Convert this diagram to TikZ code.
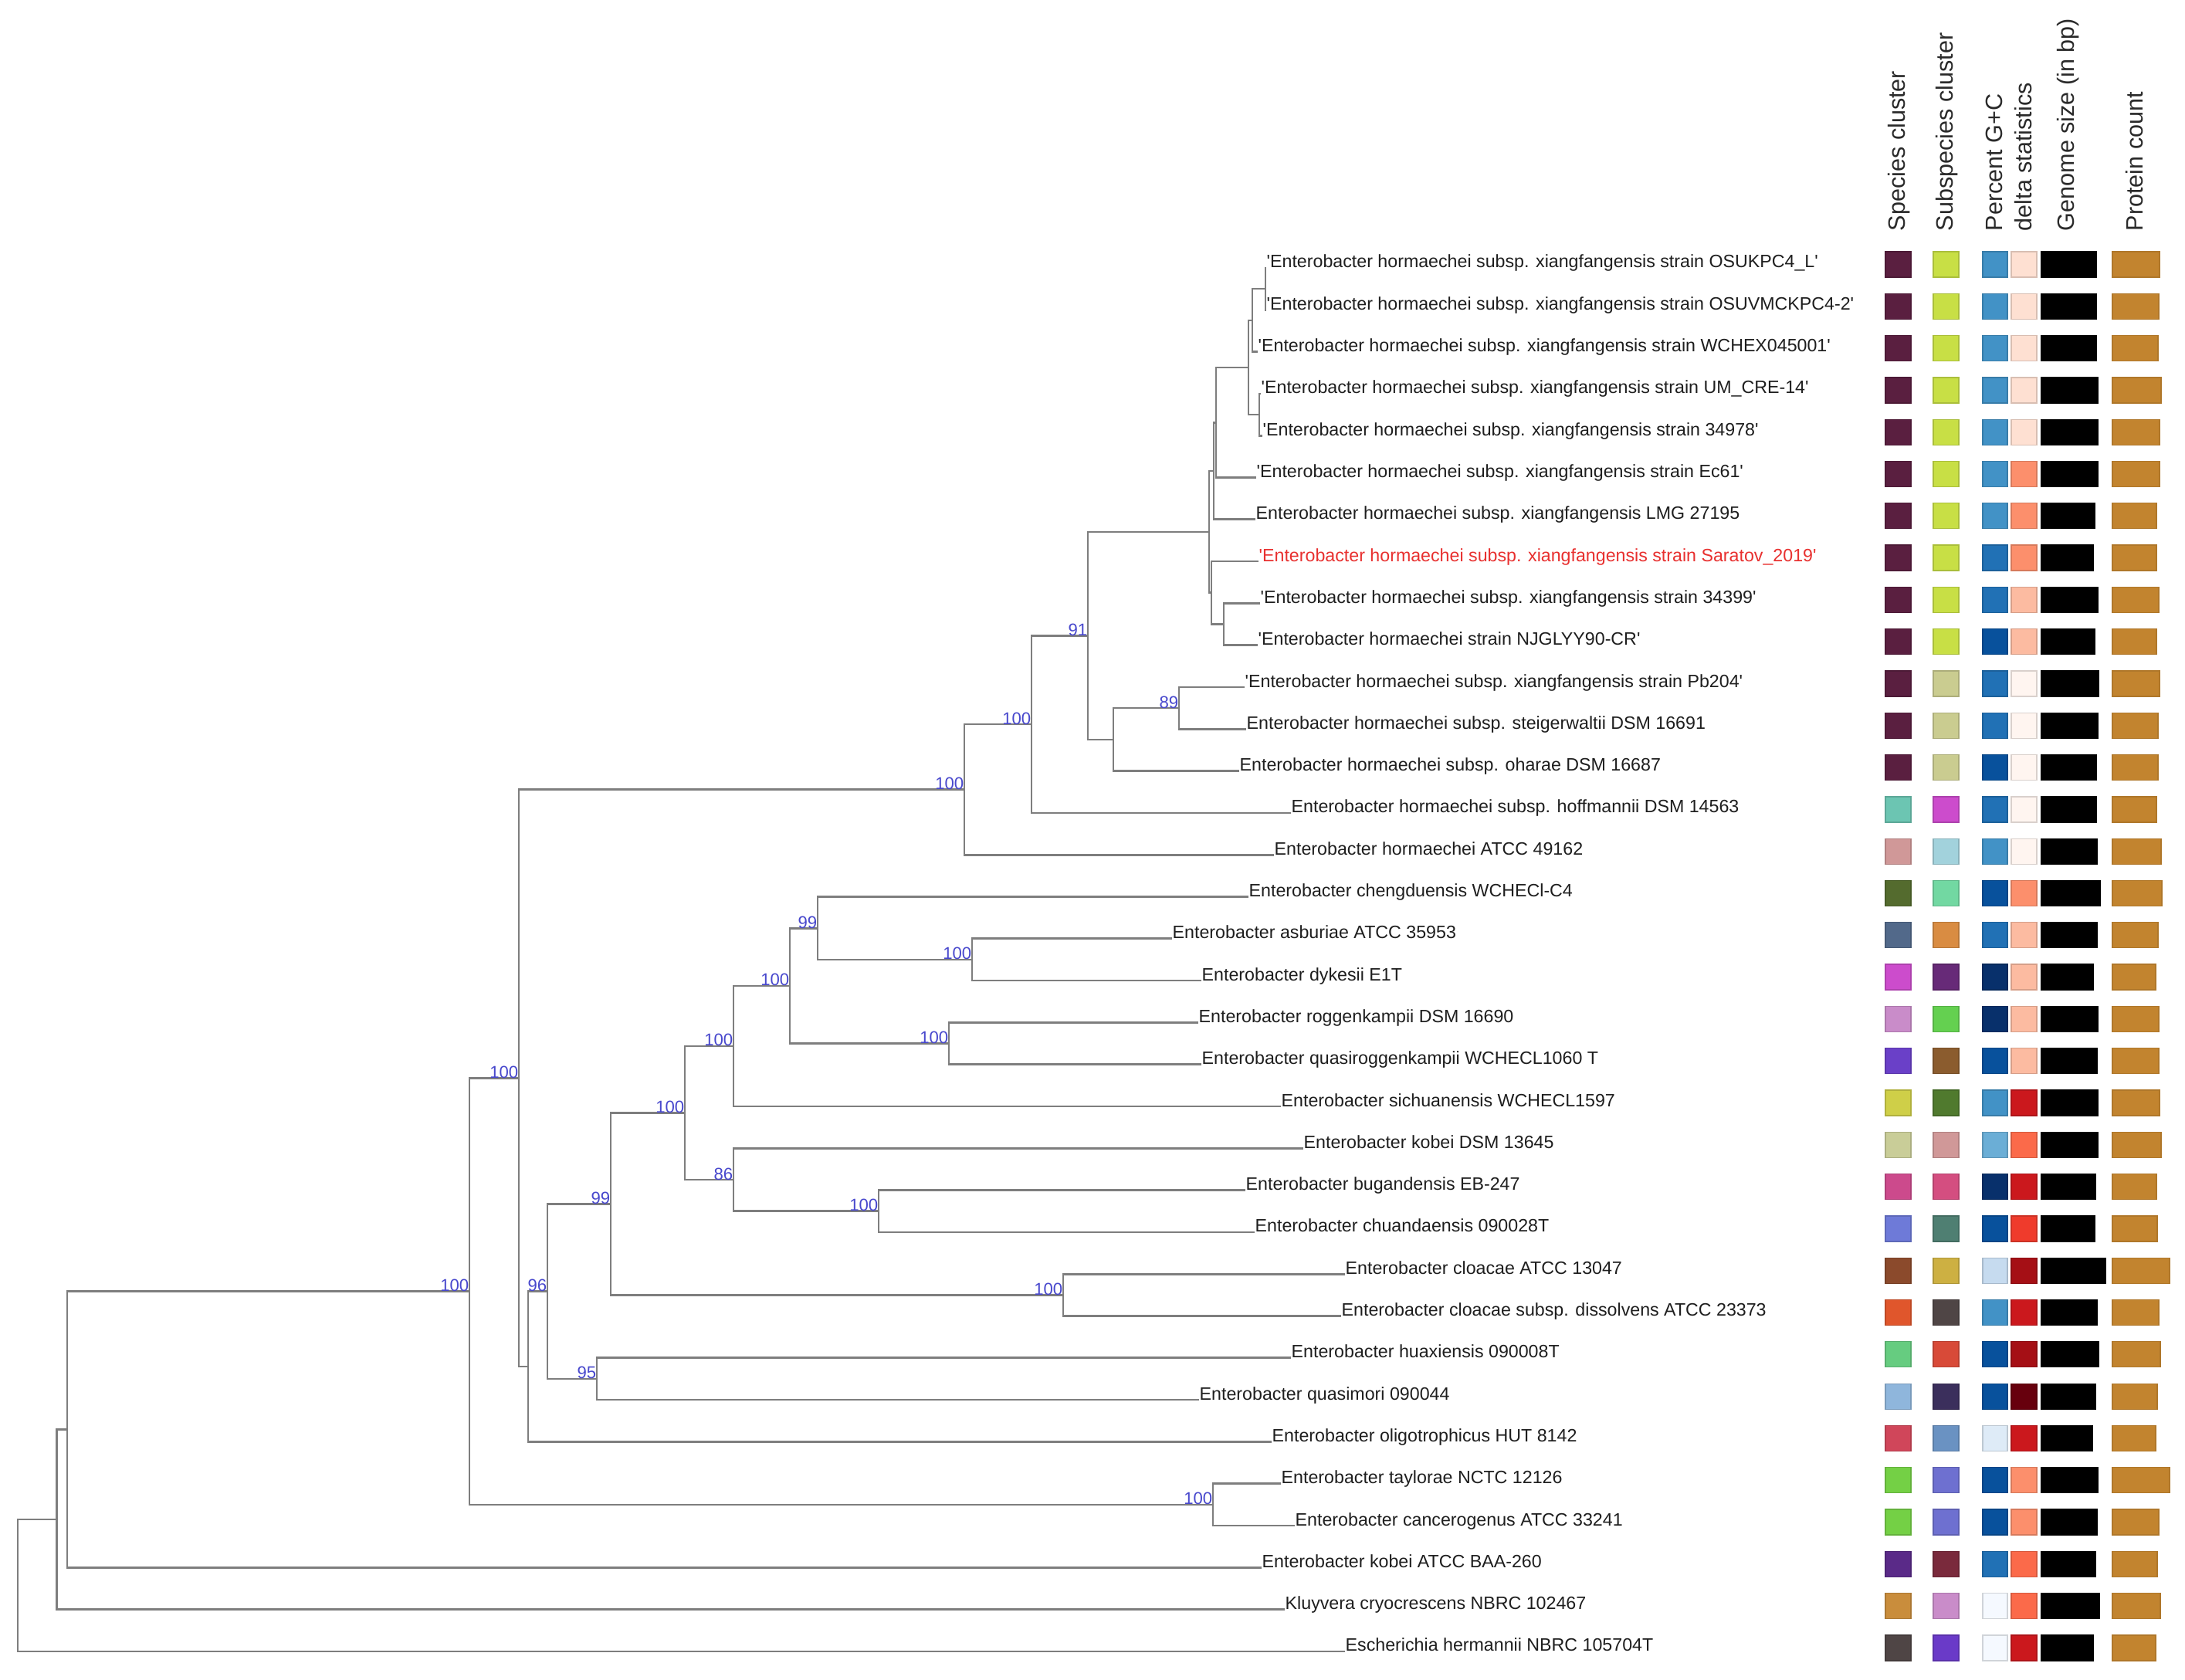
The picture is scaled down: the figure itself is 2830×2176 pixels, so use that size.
\documentclass[tikz,border=0pt]{standalone}
\usepackage{fontspec}
\newfontfamily\lsans{Liberation Sans}
\definecolor{treegray}{HTML}{7E7E7E}
\definecolor{leafc}{HTML}{1E1E1E}
\definecolor{hdrc}{HTML}{2A2A2A}
\definecolor{bsblue}{HTML}{4848CD}
\definecolor{redleaf}{HTML}{E8302F}
\definecolor{plum}{HTML}{5A1F40}
\definecolor{lime}{HTML}{C8DF45}
\definecolor{khaki}{HTML}{CACC90}
\definecolor{khakiB}{HTML}{C9CD98}
\definecolor{gcA}{HTML}{4292C6}
\definecolor{gcB}{HTML}{2171B5}
\definecolor{gcC}{HTML}{08519C}
\definecolor{gcD}{HTML}{08306B}
\definecolor{gcE}{HTML}{6BAED6}
\definecolor{gcF}{HTML}{C6DBEF}
\definecolor{gcG}{HTML}{DEEBF7}
\definecolor{gcH}{HTML}{F5F9FF}
\definecolor{dA}{HTML}{FEE0D2}
\definecolor{dB}{HTML}{FC8F6C}
\definecolor{dC}{HTML}{FCBBA1}
\definecolor{dD}{HTML}{FFF5F0}
\definecolor{dE}{HTML}{CB181D}
\definecolor{dF}{HTML}{FB6A4A}
\definecolor{dG}{HTML}{EF3B2C}
\definecolor{dH}{HTML}{A50F15}
\definecolor{dI}{HTML}{67000D}
\definecolor{prot}{HTML}{C2842F}
\definecolor{teal}{HTML}{6CC5B2}
\definecolor{magentaC}{HTML}{CC4CCC}
\definecolor{dustypink}{HTML}{D09898}
\definecolor{lightblueC}{HTML}{A2D2DC}
\definecolor{oliveC}{HTML}{546B2E}
\definecolor{mint}{HTML}{72D8A2}
\definecolor{slate}{HTML}{52698A}
\definecolor{orangeC}{HTML}{D98C42}
\definecolor{purpleC}{HTML}{672A78}
\definecolor{orchid}{HTML}{C98CC9}
\definecolor{greenC}{HTML}{64D050}
\definecolor{violetC}{HTML}{6A40C8}
\definecolor{brownC}{HTML}{8B5C2E}
\definecolor{yelolive}{HTML}{CFCF48}
\definecolor{dkgreen}{HTML}{507A2E}
\definecolor{pinkC}{HTML}{CC4A8C}
\definecolor{pinkD}{HTML}{D44E80}
\definecolor{periw}{HTML}{6E7AD8}
\definecolor{tealgray}{HTML}{4F7F72}
\definecolor{rust}{HTML}{8B4A2C}
\definecolor{mustard}{HTML}{CDB042}
\definecolor{orangered}{HTML}{E0562C}
\definecolor{dkgraybr}{HTML}{4F4545}
\definecolor{ltgreen}{HTML}{66CC80}
\definecolor{redorange}{HTML}{D84A38}
\definecolor{steel}{HTML}{8FB6DC}
\definecolor{dknavy}{HTML}{3B2F5C}
\definecolor{crimson}{HTML}{D0465A}
\definecolor{steelblue}{HTML}{6A92C2}
\definecolor{greenD}{HTML}{74D045}
\definecolor{periwB}{HTML}{6E70D0}
\definecolor{indigoC}{HTML}{5A2A88}
\definecolor{maroonC}{HTML}{7A2A3C}
\definecolor{tanC}{HTML}{C98D3C}
\definecolor{violetD}{HTML}{6A3AC8}
\begin{document}
\begin{tikzpicture}[x=0.01cm,y=-0.01cm,
  br/.style={draw=treegray, line width=0.75pt},
  leaf/.style={anchor=base west, inner sep=0pt, font=\lsans\fontsize{6.6}{7}\selectfont, text=leafc},
  bs/.style={anchor=base east, inner sep=0pt, font=\lsans\fontsize{6.3}{7}\selectfont, text=bsblue},
  hdr/.style={rotate=90, anchor=mid west, inner sep=0pt, font=\lsans\fontsize{8.7}{9}\selectfont, text=hdrc},
  cell/.style={line width=0.35pt}]
\fill[white] (0,0) rectangle (2830,2176);
\useasboundingbox (0,0) rectangle (2830,2176);

% ---------- leaves ----------
\node[leaf] (t1) at (1640,347.0) {'Enterobacter hormaechei subsp. xiangfangensis strain OSUKPC4\_L'};
\node[leaf] (t2) at (1640,401.3) {'Enterobacter hormaechei subsp. xiangfangensis strain OSUVMCKPC4-2'};
\node[leaf] (t3) at (1629,455.6) {'Enterobacter hormaechei subsp. xiangfangensis strain WCHEX045001'};
\node[leaf] (t4) at (1633,509.9) {'Enterobacter hormaechei subsp. xiangfangensis strain UM\_CRE-14'};
\node[leaf] (t5) at (1635,564.2) {'Enterobacter hormaechei subsp. xiangfangensis strain 34978'};
\node[leaf] (t6) at (1627,618.5) {'Enterobacter hormaechei subsp. xiangfangensis strain Ec61'};
\node[leaf] (t7) at (1626,672.8) {Enterobacter hormaechei subsp. xiangfangensis LMG 27195};
\node[leaf, text=redleaf] (t8) at (1630,727.1) {'Enterobacter hormaechei subsp. xiangfangensis strain Saratov\_2019'};
\node[leaf] (t9) at (1632,781.4) {'Enterobacter hormaechei subsp. xiangfangensis strain 34399'};
\node[leaf] (t10) at (1629,835.7) {'Enterobacter hormaechei strain NJGLYY90-CR'};
\node[leaf] (t11) at (1612,890.0) {'Enterobacter hormaechei subsp. xiangfangensis strain Pb204'};
\node[leaf] (t12) at (1614,944.3) {Enterobacter hormaechei subsp. steigerwaltii DSM 16691};
\node[leaf] (t13) at (1605,998.6) {Enterobacter hormaechei subsp. oharae DSM 16687};
\node[leaf] (t14) at (1672,1052.9) {Enterobacter hormaechei subsp. hoffmannii DSM 14563};
\node[leaf] (t15) at (1650,1107.2) {Enterobacter hormaechei ATCC 49162};
\node[leaf] (t16) at (1617,1161.5) {Enterobacter chengduensis WCHECl-C4};
\node[leaf] (t17) at (1518,1215.8) {Enterobacter asburiae ATCC 35953};
\node[leaf] (t18) at (1556,1270.1) {Enterobacter dykesii E1T};
\node[leaf] (t19) at (1552,1324.4) {Enterobacter roggenkampii DSM 16690};
\node[leaf] (t20) at (1556,1378.7) {Enterobacter quasiroggenkampii WCHECL1060 T};
\node[leaf] (t21) at (1659,1433.0) {Enterobacter sichuanensis WCHECL1597};
\node[leaf] (t22) at (1688,1487.3) {Enterobacter kobei DSM 13645};
\node[leaf] (t23) at (1613,1541.6) {Enterobacter bugandensis EB-247};
\node[leaf] (t24) at (1625,1595.9) {Enterobacter chuandaensis 090028T};
\node[leaf] (t25) at (1742,1650.2) {Enterobacter cloacae ATCC 13047};
\node[leaf] (t26) at (1737,1704.5) {Enterobacter cloacae subsp. dissolvens ATCC 23373};
\node[leaf] (t27) at (1672,1758.8) {Enterobacter huaxiensis 090008T};
\node[leaf] (t28) at (1553,1813.1) {Enterobacter quasimori 090044};
\node[leaf] (t29) at (1647,1867.4) {Enterobacter oligotrophicus HUT 8142};
\node[leaf] (t30) at (1659,1921.7) {Enterobacter taylorae NCTC 12126};
\node[leaf] (t31) at (1677,1976.0) {Enterobacter cancerogenus ATCC 33241};
\node[leaf] (t32) at (1634,2030.3) {Enterobacter kobei ATCC BAA-260};
\node[leaf] (t33) at (1664,2084.6) {Kluyvera cryocrescens NBRC 102467};
\node[leaf] (t34) at (1742,2138.9) {Escherichia hermannii NBRC 105704T};

% ---------- internal nodes ----------
\coordinate (nP12) at (1639,374.15);
\coordinate (nP123) at (1622,414.9);
\coordinate (nP45) at (1631,537.05);
\coordinate (nP15) at (1617,476.0);
\coordinate (nQ) at (1575,547.25);
\coordinate (nR) at (1572,610.0);
\coordinate (nU) at (1585,808.55);
\coordinate (nT) at (1569,767.8);
\coordinate (nS) at (1566,688.9);
\coordinate (nX) at (1527,917.15);
\coordinate (nW) at (1442,957.9);
\coordinate (nV) at (1409,823.4);
\coordinate (nY) at (1336,938.15);
\coordinate (nZ) at (1249,1022.7);
\coordinate (nO) at (1259,1242.95);
\coordinate (nM) at (1059,1202.2);
\coordinate (nN) at (1229,1351.55);
\coordinate (nL) at (1023,1276.9);
\coordinate (nJ) at (950,1354.95);
\coordinate (nKB) at (1138,1568.75);
\coordinate (nK) at (950,1528.0);
\coordinate (nI) at (887,1441.5);
\coordinate (nCL) at (1377,1677.35);
\coordinate (nH) at (791,1559.4);
\coordinate (nG) at (773,1785.95);
\coordinate (nF) at (709,1672.7);
\coordinate (nE) at (684,1770.05);
\coordinate (nD) at (672,1396.4);
\coordinate (nTC) at (1571,1948.85);
\coordinate (nC) at (608,1672.6);
\coordinate (nB) at (87,1851.45);
\coordinate (nA) at (73.5,1968.0);
\coordinate (nRoot) at (23,2053.5);

% ---------- branches ----------
\draw[br] (nRoot) |- (t34.base west);
\draw[br] (nRoot) |- (nA);
\draw[br] (nA) |- (t33.base west);
\draw[br] (nA) |- (nB);
\draw[br] (nB) |- (nC);
\draw[br] (nB) |- (t32.base west);
\draw[br] (nC) |- (nD);
\draw[br] (nC) |- (nTC);
\draw[br] (nTC) |- (t30.base west);
\draw[br] (nTC) |- (t31.base west);
\draw[br] (nD) |- (nZ);
\draw[br] (nD) |- (nE);
\draw[br] (nZ) |- (nY);
\draw[br] (nZ) |- (t15.base west);
\draw[br] (nY) |- (nV);
\draw[br] (nY) |- (t14.base west);
\draw[br] (nV) |- (nS);
\draw[br] (nV) |- (nW);
\draw[br] (nS) |- (nR);
\draw[br] (nS) |- (nT);
\draw[br] (nR) |- (nQ);
\draw[br] (nR) |- (t7.base west);
\draw[br] (nQ) |- (nP15);
\draw[br] (nQ) |- (t6.base west);
\draw[br] (nP15) |- (nP123);
\draw[br] (nP15) |- (nP45);
\draw[br] (nP123) |- (nP12);
\draw[br] (nP123) |- (t3.base west);
\draw[br] (nP12) |- (t1.base west);
\draw[br] (nP12) |- (t2.base west);
\draw[br] (nP45) |- (t4.base west);
\draw[br] (nP45) |- (t5.base west);
\draw[br] (nT) |- (t8.base west);
\draw[br] (nT) |- (nU);
\draw[br] (nU) |- (t9.base west);
\draw[br] (nU) |- (t10.base west);
\draw[br] (nW) |- (nX);
\draw[br] (nW) |- (t13.base west);
\draw[br] (nX) |- (t11.base west);
\draw[br] (nX) |- (t12.base west);
\draw[br] (nE) |- (nF);
\draw[br] (nE) |- (t29.base west);
\draw[br] (nF) |- (nH);
\draw[br] (nF) |- (nG);
\draw[br] (nG) |- (t27.base west);
\draw[br] (nG) |- (t28.base west);
\draw[br] (nH) |- (nI);
\draw[br] (nH) |- (nCL);
\draw[br] (nCL) |- (t25.base west);
\draw[br] (nCL) |- (t26.base west);
\draw[br] (nI) |- (nJ);
\draw[br] (nI) |- (nK);
\draw[br] (nJ) |- (nL);
\draw[br] (nJ) |- (t21.base west);
\draw[br] (nL) |- (nM);
\draw[br] (nL) |- (nN);
\draw[br] (nM) |- (t16.base west);
\draw[br] (nM) |- (nO);
\draw[br] (nO) |- (t17.base west);
\draw[br] (nO) |- (t18.base west);
\draw[br] (nN) |- (t19.base west);
\draw[br] (nN) |- (t20.base west);
\draw[br] (nK) |- (t22.base west);
\draw[br] (nK) |- (nKB);
\draw[br] (nKB) |- (t23.base west);
\draw[br] (nKB) |- (t24.base west);

% ---------- bootstrap values ----------
\node[bs] (bV) at (nV) {91};
\node[bs] (bY) at (nY) {100};
\node[bs] (bZ) at (nZ) {100};
\node[bs] (bX) at (nX) {89};
\node[bs] (bC) at (nC) {100};
\node[bs] (bD) at (nD) {100};
\node[bs] (bM) at (nM) {99};
\node[bs] (bO) at (nO) {100};
\node[bs] (bL) at (nL) {100};
\node[bs] (bN) at (nN) {100};
\node[bs] (bJ) at (nJ) {100};
\node[bs] (bI) at (nI) {100};
\node[bs] (bK) at (nK) {86};
\node[bs] (bKB) at (nKB) {100};
\node[bs] (bH) at (nH) {99};
\node[bs] (bCL) at (nCL) {100};
\node[bs] (bF) at (nF) {96};
\node[bs] (bG) at (nG) {95};
\node[bs] (bTC) at (nTC) {100};

% ---------- headers ----------
\node[hdr] (h1) at (2460,300) {Species cluster};
\node[hdr] (h2) at (2522,300) {Subspecies cluster};
\node[hdr] (h3) at (2586,300) {Percent G+C};
\node[hdr] (h4) at (2624,300) {delta statistics};
\node[hdr] (h5) at (2679,300) {Genome size (in bp)};
\node[hdr] (h6) at (2768,300) {Protein count};

% ---------- colour matrix ----------
\foreach \yy/\ca/\cb/\cc/\cd/\ge/\pe in {
 347.0/plum/lime/gcA/dA/2715/2797,
 401.3/plum/lime/gcA/dA/2715/2796,
 455.6/plum/lime/gcA/dA/2715/2795,
 509.9/plum/lime/gcA/dA/2717/2799,
 564.2/plum/lime/gcA/dA/2717/2797,
 618.5/plum/lime/gcA/dB/2717/2797,
 672.8/plum/lime/gcA/dB/2713/2793,
 727.1/plum/lime/gcB/dB/2711/2793,
 781.4/plum/lime/gcB/dC/2717/2796,
 835.7/plum/lime/gcC/dC/2713/2793,
 890.0/plum/khaki/gcB/dD/2718/2797,
 944.3/plum/khaki/gcB/dD/2717/2795,
 998.6/plum/khaki/gcC/dD/2715/2795,
 1052.9/teal/magentaC/gcB/dD/2715/2793,
 1107.2/dustypink/lightblueC/gcA/dD/2716/2799,
 1161.5/oliveC/mint/gcC/dB/2720/2800,
 1215.8/slate/orangeC/gcB/dC/2716/2795,
 1270.1/magentaC/purpleC/gcD/dC/2711/2792,
 1324.4/orchid/greenC/gcD/dC/2717/2796,
 1378.7/violetC/brownC/gcC/dC/2716/2796,
 1433.0/yelolive/dkgreen/gcA/dE/2717/2797,
 1487.3/khakiB/dustypink/gcE/dF/2717/2799,
 1541.6/pinkC/pinkD/gcD/dE/2714/2793,
 1595.9/periw/tealgray/gcC/dG/2713/2794,
 1650.2/rust/mustard/gcF/dH/2727/2810,
 1704.5/orangered/dkgraybr/gcA/dE/2716/2796,
 1758.8/ltgreen/redorange/gcC/dH/2718/2798,
 1813.1/steel/dknavy/gcC/dI/2714/2794,
 1867.4/crimson/steelblue/gcG/dE/2710/2792,
 1921.7/greenD/periwB/gcC/dB/2717/2810,
 1976.0/greenD/periwB/gcC/dB/2716/2796,
 2030.3/indigoC/maroonC/gcB/dF/2714/2794,
 2084.6/tanC/orchid/gcH/dF/2719/2798,
 2138.9/dkgraybr/violetD/gcH/dE/2711/2792}{
  \filldraw[cell, fill=\ca, draw=\ca!85!black] (2442,\yy-21) rectangle (2475,\yy+12);
  \filldraw[cell, fill=\cb, draw=\cb!85!black] (2504,\yy-21) rectangle (2537,\yy+12);
  \filldraw[cell, fill=\cc, draw=\cc!85!black] (2568,\yy-21) rectangle (2600,\yy+12);
  \filldraw[cell, fill=\cd, draw=\cd!85!black] (2605,\yy-21) rectangle (2638,\yy+12);
  \filldraw[cell, fill=black, draw=black] (2644,\yy-21) rectangle (\ge,\yy+12);
  \filldraw[cell, fill=prot, draw=prot!90!black] (2736,\yy-21) rectangle (\pe,\yy+12);
}
\end{tikzpicture}
\end{document}
